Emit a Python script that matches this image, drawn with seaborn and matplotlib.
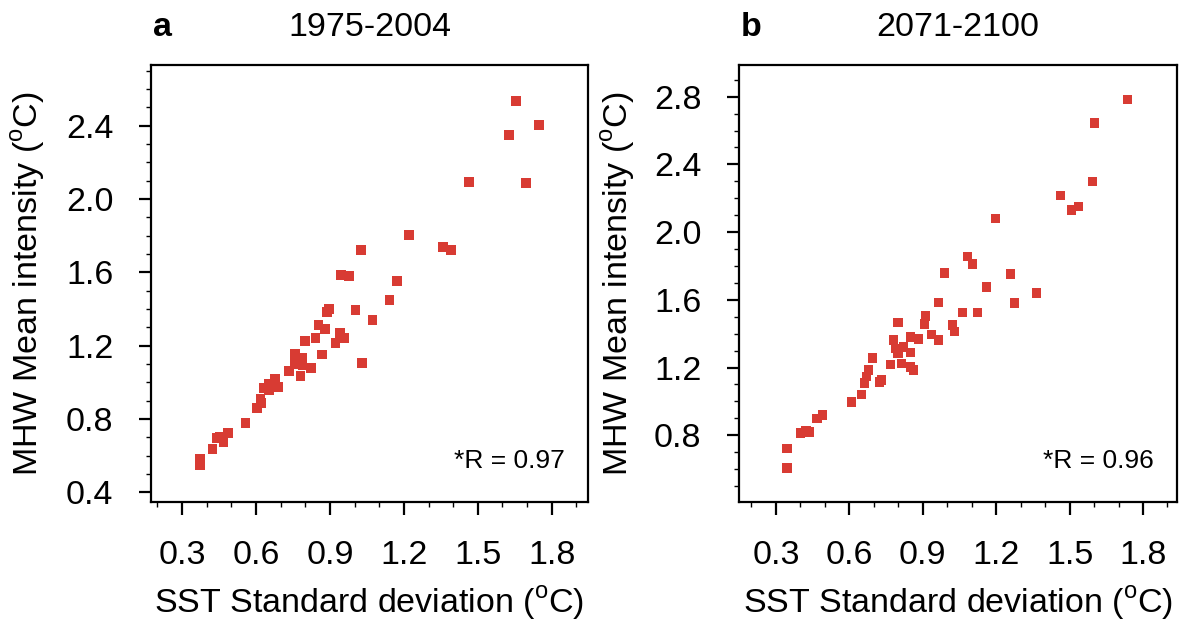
import matplotlib
matplotlib.use("Agg")
import matplotlib.pyplot as plt
from matplotlib.ticker import MultipleLocator
import pandas as pd
import seaborn as sns

# Panel a: 1975-2004
sst_sd_hist = [1.655, 1.749, 1.627, 1.465, 1.696, 1.222, 1.359, 1.392, 1.027, 0.946,
               0.978, 1.173, 1.141, 0.897, 0.889, 1.003, 1.072, 0.853, 0.881, 0.841,
               0.800, 0.942, 0.958, 0.922, 0.869, 1.031, 0.759, 0.788, 0.759, 0.788,
               0.822, 0.735, 0.780, 0.678, 0.689, 0.650, 0.630, 0.654, 0.618, 0.622,
               0.605, 0.557, 0.486, 0.455, 0.443, 0.468, 0.423, 0.374, 0.374]
mhw_int_hist = [2.533, 2.402, 2.347, 2.091, 2.085, 1.802, 1.736, 1.720, 1.720, 1.584,
                1.578, 1.551, 1.447, 1.398, 1.382, 1.393, 1.338, 1.311, 1.289, 1.240,
                1.224, 1.267, 1.240, 1.213, 1.151, 1.104, 1.153, 1.131, 1.098, 1.093,
                1.078, 1.060, 1.035, 1.018, 0.975, 0.991, 0.967, 0.956, 0.911, 0.887,
                0.858, 0.778, 0.722, 0.700, 0.696, 0.675, 0.636, 0.584, 0.549]

# Panel b: 2071-2100
sst_sd_fut = [1.737, 1.602, 1.594, 1.463, 1.508, 1.537, 1.197, 1.083, 1.103, 0.989,
              1.259, 1.160, 1.365, 1.275, 0.964, 1.062, 1.124, 0.911, 0.907, 0.800,
              1.021, 1.030, 0.935, 0.850, 0.882, 0.964, 0.780, 0.788, 0.821, 0.800,
              0.850, 0.694, 0.768, 0.813, 0.850, 0.862, 0.678, 0.670, 0.662, 0.723,
              0.731, 0.649, 0.608, 0.490, 0.469, 0.400, 0.424, 0.436, 0.346, 0.346]
mhw_int_fut = [2.784, 2.643, 2.300, 2.217, 2.129, 2.152, 2.081, 1.857, 1.810, 1.757,
               1.751, 1.674, 1.639, 1.580, 1.585, 1.526, 1.526, 1.503, 1.456, 1.467,
               1.450, 1.414, 1.396, 1.379, 1.367, 1.361, 1.361, 1.312, 1.320, 1.284,
               1.290, 1.255, 1.219, 1.225, 1.202, 1.184, 1.184, 1.148, 1.107, 1.113,
               1.125, 1.042, 0.995, 0.918, 0.900, 0.812, 0.824, 0.818, 0.723, 0.605]

panel_letters = ["a", "b"]
periods = ["1975-2004", "2071-2100"]
r_labels = ["*R = 0.97", "*R = 0.96"]

sns.set_style("ticks", {"axes.edgecolor": "black", "text.color": "black",
                        "xtick.color": "black", "ytick.color": "black",
                        "axes.labelcolor": "black"})
plt.rcParams["font.family"] = ["Liberation Sans", "DejaVu Sans"]
plt.rcParams["mathtext.fontset"] = "custom"
plt.rcParams["mathtext.rm"] = "Liberation Sans"

W, H = 1186, 623
fig = plt.figure(figsize=(W / 100, H / 100), dpi=100)

# axes boxes in pixels: left, top, right, bottom
boxes = [(151, 65, 588, 502), (739, 65, 1177, 502)]
xlims = [(0.174, 1.947), (0.149, 1.939)]
ylims = [(0.347, 2.73), (0.406, 2.987)]
yticks = [[0.4, 0.8, 1.2, 1.6, 2.0, 2.4], [0.8, 1.2, 1.6, 2.0, 2.4, 2.8]]
xticks = [0.3, 0.6, 0.9, 1.2, 1.5, 1.8]
letter_x = [162, 751]
ylabel_x = [28, 618]

datasets = [(sst_sd_hist, mhw_int_hist), (sst_sd_fut, mhw_int_fut)]
red = "#d83b33"

for i, (xs, ys) in enumerate(datasets):
    l, t, r, b = boxes[i]
    ax = fig.add_axes([l / W, (H - b) / H, (r - l) / W, (b - t) / H])
    df = pd.DataFrame({"sd": xs, "mi": ys})
    sns.scatterplot(data=df, x="sd", y="mi", ax=ax, marker="s", s=48,
                    color=red, edgecolor="none", linewidth=0)
    ax.set_xlim(*xlims[i])
    ax.set_ylim(*ylims[i])
    ax.set_xticks(xticks)
    ax.set_yticks(yticks[i])
    ax.xaxis.set_minor_locator(MultipleLocator(0.1))
    ax.yaxis.set_minor_locator(MultipleLocator(0.1))
    ax.set_xticklabels([f"{v:.1f}" for v in xticks])
    ax.set_yticklabels([f"{v:.1f}" for v in yticks[i]])
    for side in ["top", "right", "left", "bottom"]:
        ax.spines[side].set_visible(True)
        ax.spines[side].set_linewidth(1.6)
    ax.tick_params(axis="both", which="major", direction="out", length=9,
                   width=1.6, labelsize=24.5)
    ax.tick_params(axis="both", which="minor", direction="out", length=3.5,
                   width=1.0)
    ax.tick_params(axis="x", which="major", pad=18)
    ax.tick_params(axis="y", which="major", pad=18)
    ax.set_xlabel(r"SST Standard deviation ($^{\rm o}$C)", fontsize=24.5)
    ax.set_ylabel(r"MHW Mean intensity ($^{\rm o}$C)", fontsize=24.5)
    ax.xaxis.set_label_coords(0.5, -(603 - b) / (b - t))
    ax.yaxis.set_label_coords((ylabel_x[i] - l) / (r - l), 0.5)
    ax.xaxis.label.set_va("center")
    ax.yaxis.label.set_va("center")
    ax.text(0.947, (b - 468) / (b - t), r_labels[i], transform=ax.transAxes,
            ha="right", va="baseline", fontsize=19)
    fig.text(((l + r) / 2) / W, 1 - 28 / H, periods[i], ha="center", va="center",
             fontsize=24.5)
    fig.text(letter_x[i] / W, 1 - 28 / H, panel_letters[i], ha="center",
             va="center", fontsize=24.5, fontweight="bold")

fig.savefig("out.png", dpi=100)
